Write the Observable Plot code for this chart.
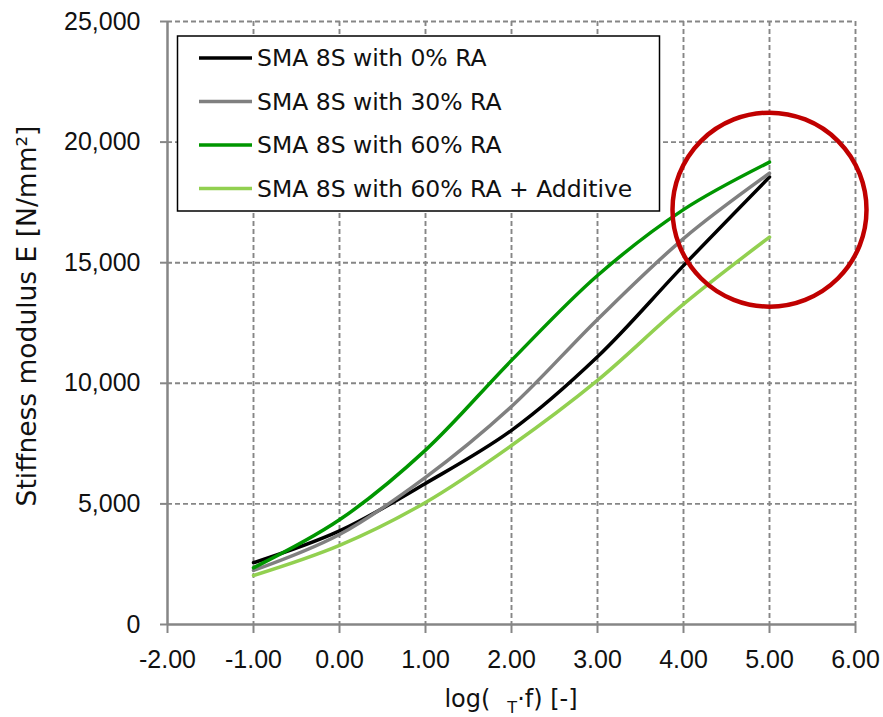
<!DOCTYPE html>
<html>
<head>
<meta charset="utf-8">
<script src="https://cdn.jsdelivr.net/npm/d3@7"></script>
<script src="https://cdn.jsdelivr.net/npm/@observablehq/plot@0.6"></script>
<style>
  html, body { margin: 0; padding: 0; background: #ffffff; }
  svg { display: block; }
</style>
</head>
<body>
<div id="chart"></div>
<script>
// Reduced frequency (log scale) at which each master curve is sampled
const logFreq = [-1, 0, 1, 2, 3, 4, 5];

// Stiffness modulus E [N/mm²] per mixture
const sma0RA   = [2560, 3880, 5850, 8050, 11100, 14880, 18550];
const sma30RA  = [2240, 3730, 6100, 9040, 12650, 16000, 18710];
const sma60RA  = [2350, 4340, 7230, 10950, 14470, 17200, 19170];
const sma60Add = [2030, 3280, 5060, 7420, 10120, 13280, 16060];

const seriesNames = [
  "SMA 8S with 0% RA",
  "SMA 8S with 30% RA",
  "SMA 8S with 60% RA",
  "SMA 8S with 60% RA + Additive"
];
const seriesColors = ["#000000", "#808080", "#009600", "#92d050"];
const seriesValues = [sma0RA, sma30RA, sma60RA, sma60Add];

// Axis ticks
const xTicks = [-2, -1, 0, 1, 2, 3, 4, 5, 6];
const yTicks = [0, 5000, 10000, 15000, 20000, 25000];

// Highlight ring around the high-frequency end of the curves
const ringX = [5];
const ringY = [17200];

const rows = seriesNames.flatMap((name, i) =>
  logFreq.map((x, j) => ({ name, x, y: seriesValues[i][j] }))
);
const ring = ringX.map((x, i) => ({ x, y: ringY[i] }));

const gridStyle = { stroke: "#868686", strokeWidth: 1.9, strokeDasharray: "5,3" };
const axisGray = "#868686";

const chart = Plot.plot({
  width: 883,
  height: 717,
  marginLeft: 167,
  marginRight: 28,
  marginTop: 21,
  marginBottom: 93,
  style: { fontFamily: "'Liberation Sans', Arial, sans-serif", fontSize: "25px", background: "#ffffff", color: "#000000" },
  x: { domain: [-2, 6] },
  y: { domain: [0, 25000] },
  color: { domain: seriesNames, range: seriesColors },
  marks: [
    Plot.ruleX(xTicks.slice(1), gridStyle),
    Plot.ruleY(yTicks.slice(1), gridStyle),
    Plot.ruleX([xTicks[0]], { stroke: axisGray, strokeWidth: 2.5 }),
    Plot.ruleY([yTicks[0]], { stroke: axisGray, strokeWidth: 2.5 }),
    Plot.axisX({
      ticks: xTicks, tickFormat: d => d.toFixed(2), tickSize: 9, tickPadding: 17,
      stroke: axisGray, strokeWidth: 2, fill: "#111111", label: null
    }),
    Plot.axisY({
      ticks: yTicks, tickFormat: d3.format(","), tickSize: 7, tickPadding: 20,
      stroke: axisGray, strokeWidth: 2, fill: "#111111", label: null
    }),
    Plot.line(rows, {
      x: "x", y: "y", z: "name", stroke: "name",
      curve: "catmull-rom", strokeWidth: 3.5, strokeLinejoin: "round"
    }),
    Plot.dot(ring, { x: "x", y: "y", r: 97, stroke: "#c00000", strokeWidth: 4.5, fill: "none" })
  ]
});

document.getElementById("chart").appendChild(chart);

// Axis titles and legend box, layered on the plot's SVG
const svg = d3.select(chart);
const titleFont = "'DejaVu Sans', Verdana, sans-serif";

const xTitle = svg.append("text")
  .attr("x", 511).attr("y", 707)
  .attr("text-anchor", "middle")
  .attr("font-family", titleFont).attr("font-size", 24).attr("fill", "#111");
xTitle.append("tspan").text("log(");
xTitle.append("tspan").attr("dx", 17).attr("dy", 6).attr("font-size", 16).text("T");
xTitle.append("tspan").attr("dy", -6).text("·f) [-]");

svg.append("text")
  .attr("transform", "translate(36,316) rotate(-90)")
  .attr("text-anchor", "middle")
  .attr("font-family", titleFont).attr("font-size", 26.5).attr("fill", "#111")
  .text("Stiffness modulus E [N/mm²]");

const legend = svg.append("g");
legend.append("rect")
  .attr("x", 177.5).attr("y", 36).attr("width", 482).attr("height", 175)
  .attr("fill", "#ffffff").attr("stroke", "#000000").attr("stroke-width", 1.5);
const rowY = [58, 101.5, 145, 188.5];
seriesNames.forEach((name, i) => {
  legend.append("line")
    .attr("x1", 199).attr("x2", 252).attr("y1", rowY[i]).attr("y2", rowY[i])
    .attr("stroke", seriesColors[i]).attr("stroke-width", 3.5);
  legend.append("text")
    .attr("x", 257).attr("y", rowY[i]).attr("dy", "0.36em")
    .attr("text-anchor", "start")
    .attr("font-family", titleFont).attr("font-size", 23.5).attr("fill", "#111")
    .text(name);
});
</script>
</body>
</html>
